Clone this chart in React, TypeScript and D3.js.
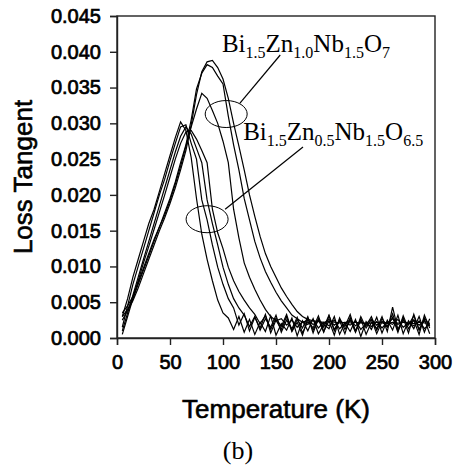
import React, { useEffect, useRef } from 'react';
import * as d3 from 'd3';

// temperature grid (K) shared by all curves
const temps = d3.range(5, 300, 5);

// Bi1.5Zn0.5Nb1.5O6.5 curves
const lossB1 = [.0030, .0055, .0085, .0110, .0135, .0160, .0180, .0205, .0230, .0255, .0280, .0302, .0290, .0252, .0195, .0145, .0110, .0080, .0053, .0035, .0028, .0012, .0030, .0008, .0026, .0005, .0022, .0009, .0031, .0004, .0020, .0011, .0028, .0003, .0024, .0010, .0027, .0006, .0019, .0013, .0030, .0005, .0021, .0009, .0026, .0002, .0023, .0012, .0029, .0007, .0025, .0011, .0032, .0006, .0024, .0013, .0030, .0008, .0027];
const lossB2 = [.0015, .0045, .0075, .0100, .0125, .0150, .0175, .0200, .0222, .0248, .0272, .0295, .0298, .0272, .0250, .0193, .0165, .0130, .0099, .0075, .0055, .0042, .0018, .0034, .0010, .0029, .0014, .0033, .0007, .0025, .0012, .0030, .0009, .0022, .0004, .0028, .0011, .0026, .0008, .0031, .0012, .0024, .0006, .0029, .0010, .0027, .0005, .0022, .0013, .0030, .0009, .0043, .0012, .0028, .0007, .0033, .0011, .0026, .0006];
const lossB3 = [.0010, .0035, .0060, .0085, .0110, .0135, .0160, .0185, .0210, .0235, .0260, .0282, .0295, .0285, .0265, .0245, .0193, .0160, .0130, .0099, .0075, .0055, .0042, .0032, .0016, .0030, .0011, .0027, .0015, .0032, .0008, .0025, .0013, .0029, .0007, .0023, .0014, .0031, .0009, .0024, .0004, .0028, .0012, .0025, .0008, .0030, .0014, .0026, .0006, .0023, .0015, .0029, .0008, .0031, .0013, .0025, .0005, .0032, .0014];
const lossB4 = [.0005, .0030, .0055, .0080, .0105, .0128, .0152, .0176, .0200, .0225, .0250, .0272, .0288, .0290, .0278, .0262, .0245, .0180, .0147, .0125, .0099, .0080, .0065, .0053, .0042, .0033, .0020, .0031, .0012, .0028, .0016, .0033, .0010, .0026, .0014, .0030, .0007, .0027, .0015, .0032, .0010, .0026, .0016, .0033, .0009, .0024, .0017, .0030, .0011, .0027, .0016, .0034, .0010, .0025, .0018, .0031, .0012, .0028, .0017];

// Bi1.5Zn1.0Nb1.5O7 curves
const lossA1 = [.0030, .0040, .0055, .0075, .0095, .0115, .0135, .0155, .0172, .0192, .0215, .0240, .0268, .0295, .0320, .0342, .0335, .0318, .0300, .0275, .0245, .0180, .0140, .0105, .0085, .0068, .0053, .0040, .0030, .0024, .0027, .0018, .0025, .0015, .0023, .0019, .0026, .0014, .0022, .0017, .0025, .0013, .0021, .0018, .0024, .0012, .0020, .0016, .0023, .0014, .0022, .0019, .0026, .0015, .0021, .0017, .0024, .0013, .0020];
const lossA2 = [.0035, .0045, .0058, .0078, .0098, .0118, .0138, .0155, .0175, .0195, .0218, .0245, .0270, .0305, .0348, .0370, .0382, .0378, .0366, .0355, .0310, .0270, .0235, .0195, .0165, .0135, .0112, .0093, .0078, .0064, .0052, .0042, .0032, .0027, .0022, .0025, .0019, .0024, .0020, .0026, .0018, .0023, .0021, .0025, .0017, .0022, .0020, .0026, .0018, .0023, .0021, .0027, .0019, .0024, .0020, .0025, .0018, .0023, .0021];
const lossA3 = [.0025, .0038, .0052, .0070, .0090, .0110, .0130, .0150, .0168, .0188, .0210, .0235, .0262, .0298, .0340, .0372, .0386, .0388, .0378, .0362, .0335, .0300, .0268, .0235, .0200, .0170, .0142, .0118, .0100, .0085, .0070, .0058, .0047, .0037, .0030, .0026, .0024, .0023, .0022, .0023, .0022, .0021, .0022, .0021, .0022, .0021, .0020, .0021, .0022, .0021, .0020, .0022, .0021, .0022, .0021, .0020, .0022, .0021, .0020];

const series = [lossB1, lossB2, lossB3, lossB4, lossA1, lossA2, lossA3];

const xTicks = [0, 50, 100, 150, 200, 250, 300];
const yTicks = [0, 0.005, 0.01, 0.015, 0.02, 0.025, 0.03, 0.035, 0.04, 0.045];

// annotations in data coordinates: [T, loss]
const labelA = { at: [99, 0.0400], parts: [['Bi', '1.5'], ['Zn', '1.0'], ['Nb', '1.5'], ['O', '7']] };
const labelB = { at: [119, 0.0277], parts: [['Bi', '1.5'], ['Zn', '0.5'], ['Nb', '1.5'], ['O', '6.5']] };
const ellipseA = [103, 0.0313];
const ellipseB = [85, 0.0166];
const leaderA = [[154, 0.03955], [116, 0.03284]];
const leaderB = [[175.5, 0.0267], [102, 0.0180]];

const W = 456, H = 465;
const margin = { left: 117, right: 21, top: 16, bottom: 127 };

const App = () => {
  const svgRef = useRef<SVGSVGElement>(null);

  useEffect(() => {
    const svg = d3.select(svgRef.current);
    svg.selectAll('*').remove();

    const x = d3.scaleLinear().domain([0, 300]).range([margin.left, W - margin.right]);
    const y = d3.scaleLinear().domain([0, 0.045]).range([H - margin.bottom, margin.top]);
    const axisColor = '#222';
    const sans = 'Liberation Sans, Arial, sans-serif';
    const serif = 'Liberation Serif, Times New Roman, serif';

    // curves
    const line = d3.line<number>()
      .x((d, i) => x(temps[i]))
      .y((d) => y(d));
    svg.selectAll('.curve')
      .data(series)
      .enter()
      .append('path')
      .attr('class', 'curve')
      .attr('d', (d) => line(d))
      .attr('fill', 'none')
      .attr('stroke', '#000')
      .attr('stroke-width', 1.2);

    // frame
    svg.append('rect')
      .attr('x', x(0)).attr('y', y(0.045))
      .attr('width', x(300) - x(0)).attr('height', y(0) - y(0.045))
      .attr('fill', 'none').attr('stroke', axisColor).attr('stroke-width', 1.4);

    // axes
    const xAxis = d3.axisBottom(x).tickValues(xTicks).tickSize(7).tickPadding(10).tickFormat(d3.format('d'));
    const gx = svg.append('g').attr('transform', `translate(0,${y(0)})`).call(xAxis);
    const yAxis = d3.axisLeft(y).tickValues(yTicks).tickSize(7).tickPadding(9).tickFormat(d3.format('.3f'));
    const gy = svg.append('g').attr('transform', `translate(${x(0)},0)`).call(yAxis);
    [gx, gy].forEach((g) => {
      g.select('.domain').attr('stroke', axisColor).attr('stroke-width', 1.4);
      g.selectAll('.tick line').attr('stroke', axisColor).attr('stroke-width', 1.4);
      g.selectAll('.tick text')
        .attr('fill', '#000')
        .attr('stroke', '#000')
        .attr('stroke-width', 0.7)
        .style('font-family', sans)
        .style('font-size', '20px');
    });

    // axis titles
    svg.append('text')
      .attr('x', (x(0) + x(300)) / 2).attr('y', 418)
      .attr('text-anchor', 'middle')
      .attr('stroke', '#000').attr('stroke-width', 0.6)
      .style('font-family', sans).style('font-size', '26px')
      .text('Temperature (K)');
    svg.append('text')
      .attr('transform', `translate(32,${(y(0) + y(0.045)) / 2}) rotate(-90)`)
      .attr('text-anchor', 'middle')
      .attr('stroke', '#000').attr('stroke-width', 0.6)
      .style('font-family', sans).style('font-size', '26px')
      .text('Loss Tangent');
    svg.append('text')
      .attr('x', 238).attr('y', 459)
      .attr('text-anchor', 'middle')
      .style('font-family', serif).style('font-size', '26px')
      .text('(b)');

    // formula labels
    [labelA, labelB].forEach((lab) => {
      const t = svg.append('text')
        .attr('x', x(lab.at[0])).attr('y', y(lab.at[1]))
        .style('font-family', serif).style('font-size', '25px');
      lab.parts.forEach(([el, sub], i) => {
        t.append('tspan').attr('dy', i === 0 ? 0 : -6).text(el);
        t.append('tspan').attr('dy', 6).style('font-size', '16px').text(sub);
      });
    });

    // ellipses and leader lines
    [ellipseA, ellipseB].forEach((e) => {
      svg.append('ellipse')
        .attr('cx', x(e[0])).attr('cy', y(e[1]))
        .attr('rx', 21).attr('ry', 13.5)
        .attr('fill', 'none').attr('stroke', '#000').attr('stroke-width', 1);
    });
    [leaderA, leaderB].forEach((l) => {
      svg.append('line')
        .attr('x1', x(l[0][0])).attr('y1', y(l[0][1]))
        .attr('x2', x(l[1][0])).attr('y2', y(l[1][1]))
        .attr('stroke', '#000').attr('stroke-width', 1.2);
    });
  }, []);

  return (
    <svg
      ref={svgRef}
      width={W}
      height={H}
      style={{ position: 'absolute', left: 0, top: 0, background: '#fff' }}
    ></svg>
  );
};

export default App;
